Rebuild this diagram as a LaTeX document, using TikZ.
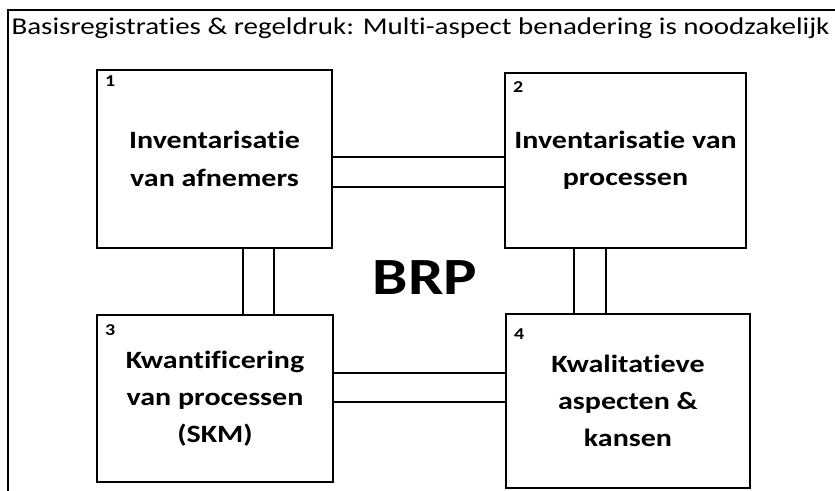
\documentclass[tikz,border=0pt]{standalone}
\usepackage{fontspec}
\setmainfont[Ligatures=NoCommon]{Carlito}
\begin{document}
\begin{tikzpicture}[x=1pt,y=1pt,
  line width=1.1pt,
  boxnode/.style={draw, line width=1.1pt, minimum width=#1, inner sep=0pt},
  squeeze/.style={transform shape, yscale=0.83, inner sep=0pt},
  boxtext/.style={squeeze, align=center, font=\bfseries\fontsize{30}{45}\selectfont},
  numtext/.style={squeeze, anchor=north west, font=\bfseries\fontsize{20}{22}\selectfont},
  titletext/.style={squeeze, anchor=base west, font=\fontsize{29}{34}\selectfont}
]
\useasboundingbox (0,0) rectangle (835,490);
% outer frame (left and top visible)
\draw (8,-5) -- (8,480) -- (840,480);
\node[titletext] (title) at (11,455) {Basisregistraties \& regeldruk: Multi-aspect benadering is noodzakelijk};

% boxes
\node[boxnode=235pt, minimum height=178pt] (b1) at (214.5,331) {};
\node[boxnode=241pt, minimum height=175pt] (b2) at (625.5,329.5) {};
\node[boxnode=236pt, minimum height=167pt] (b3) at (215,91.5) {};
\node[boxnode=244pt, minimum height=174pt] (b4) at (628,89) {};

% connector coordinates
\coordinate (h12a) at (0,333);
\coordinate (h12b) at (0,303);
\coordinate (h34a) at (0,117);
\coordinate (h34b) at (0,88);
\coordinate (v13a) at (243,0);
\coordinate (v13b) at (274,0);
\coordinate (v24a) at (574,0);
\coordinate (v24b) at (606,0);

\draw (b1.east |- h12a) -- (b2.west |- h12a);
\draw (b1.east |- h12b) -- (b2.west |- h12b);
\draw (b3.east |- h34a) -- (b4.west |- h34a);
\draw (b3.east |- h34b) -- (b4.west |- h34b);
\draw (b1.south -| v13a) -- (b3.north -| v13a);
\draw (b1.south -| v13b) -- (b3.north -| v13b);
\draw (b2.south -| v24a) -- (b4.north -| v24a);
\draw (b2.south -| v24b) -- (b4.north -| v24b);

% numbers
\node[numtext] (n1) at ([xshift=8pt,yshift=-6pt]b1.north west) {1};
\node[numtext] (n2) at ([xshift=8pt,yshift=-9pt]b2.north west) {2};
\node[numtext] (n3) at ([xshift=8pt,yshift=-10pt]b3.north west) {3};
\node[numtext] (n4) at ([xshift=8pt,yshift=-15pt]b4.north west) {4};

% texts
\node[boxtext] (t1) at (b1.center) {Inventarisatie\\van afnemers};
\node[boxtext] (t2) at (b2.center) {Inventarisatie van\\processen};
\node[boxtext] (t3) at (b3.center) {Kwantificering\\van processen\\(SKM)};
\node[boxtext] (t4) at (b4.center) {Kwalitatieve\\aspecten \&\\kansen};

\node[squeeze, font=\bfseries\fontsize{63}{70}\selectfont] (brp) at (425,212) {BRP};
\end{tikzpicture}
\end{document}
